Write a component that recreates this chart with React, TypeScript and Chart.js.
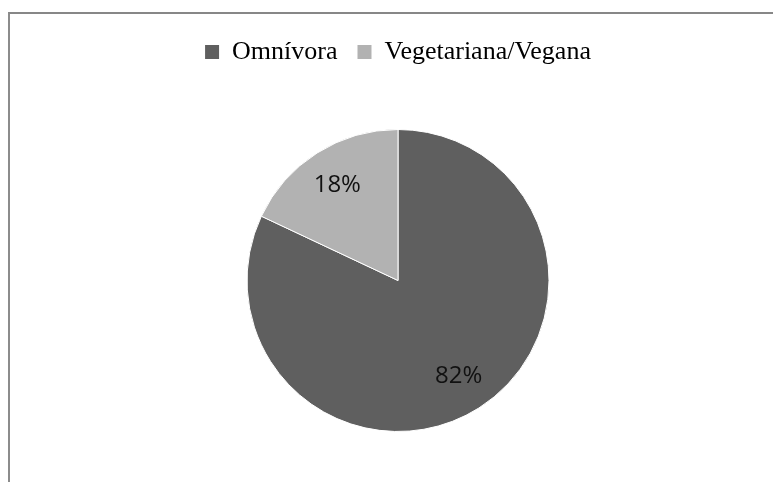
import React, { useEffect, useRef } from "react";
import { Chart, registerables } from "chart.js";

Chart.register(...registerables);

const categories = ["Omnívora", "Vegetariana/Vegana"];
const values = [82, 18];
const percentLabels = ["82%", "18%"];
const sliceColors = ["#5f5f5f", "#b2b2b2"];

const LEGEND_TOP = 19;
const LEGEND_HEIGHT = 110;

const legendHeightPlugin = {
  id: "legendHeight",
  beforeLayout(chart: any) {
    const lg = chart.legend;
    if (lg && !lg.__wrapped) {
      const orig = lg.fit.bind(lg);
      lg.fit = function () {
        orig();
        this.height = LEGEND_HEIGHT;
      };
      lg.__wrapped = true;
    }
  },
};

const sliceLabelPlugin = {
  id: "sliceLabels",
  afterDatasetsDraw(chart: any) {
    const ctx = chart.ctx;
    const meta = chart.getDatasetMeta(0);
    ctx.save();
    ctx.font = '24px "Open Sans"';
    ctx.fillStyle = "#111111";
    ctx.textAlign = "center";
    ctx.textBaseline = "middle";
    meta.data.forEach((arc: any, i: number) => {
      const p = arc.getProps(["x", "y", "startAngle", "endAngle", "outerRadius"], true);
      const mid = (p.startAngle + p.endAngle) / 2;
      const r = p.outerRadius * 0.75;
      ctx.fillText(percentLabels[i], p.x + Math.cos(mid) * r, p.y + Math.sin(mid) * r);
    });
    ctx.restore();
  },
};

export default function App() {
  const ref = useRef<HTMLCanvasElement | null>(null);

  useEffect(() => {
    if (!ref.current) return;
    const chart = new Chart(ref.current, {
      type: "pie",
      data: {
        labels: categories,
        datasets: [
          {
            data: values,
            backgroundColor: sliceColors,
            borderColor: "#ffffff",
            borderWidth: 1,
          },
        ],
      },
      options: {
        responsive: false,
        animation: false,
        layout: { padding: { top: LEGEND_TOP, bottom: 50, left: 0, right: 0 } },
        plugins: {
          tooltip: { enabled: false },
          legend: {
            display: true,
            position: "top",
            labels: {
              boxWidth: 14,
              boxHeight: 14,
              padding: 20,
              color: "#000000",
              font: { family: '"Liberation Serif", "Times New Roman", serif', size: 26 },
              generateLabels(c: any) {
                const base = Chart.overrides.pie.plugins.legend.labels.generateLabels(c);
                return base.map((item: any) => ({ ...item, lineWidth: 0, strokeStyle: "rgba(0,0,0,0)" }));
              },
            },
          },
        },
      } as any,
      plugins: [legendHeightPlugin, sliceLabelPlugin],
    });
    return () => chart.destroy();
  }, []);

  return (
    <div
      style={{
        position: "fixed",
        left: 0,
        top: 0,
        width: 773,
        height: 482,
        overflow: "hidden",
        background: "#ffffff",
      }}
    >
      <div
        style={{
          position: "absolute",
          left: 8,
          top: 12,
          width: 2000,
          height: 2000,
          borderTop: "2px solid #878787",
          borderLeft: "2px solid #8c8c8c",
        }}
      />
      <canvas
        ref={ref}
        width={796}
        height={482}
        style={{ position: "absolute", left: 0, top: 0, width: 796, height: 482 }}
      />
    </div>
  );
}
